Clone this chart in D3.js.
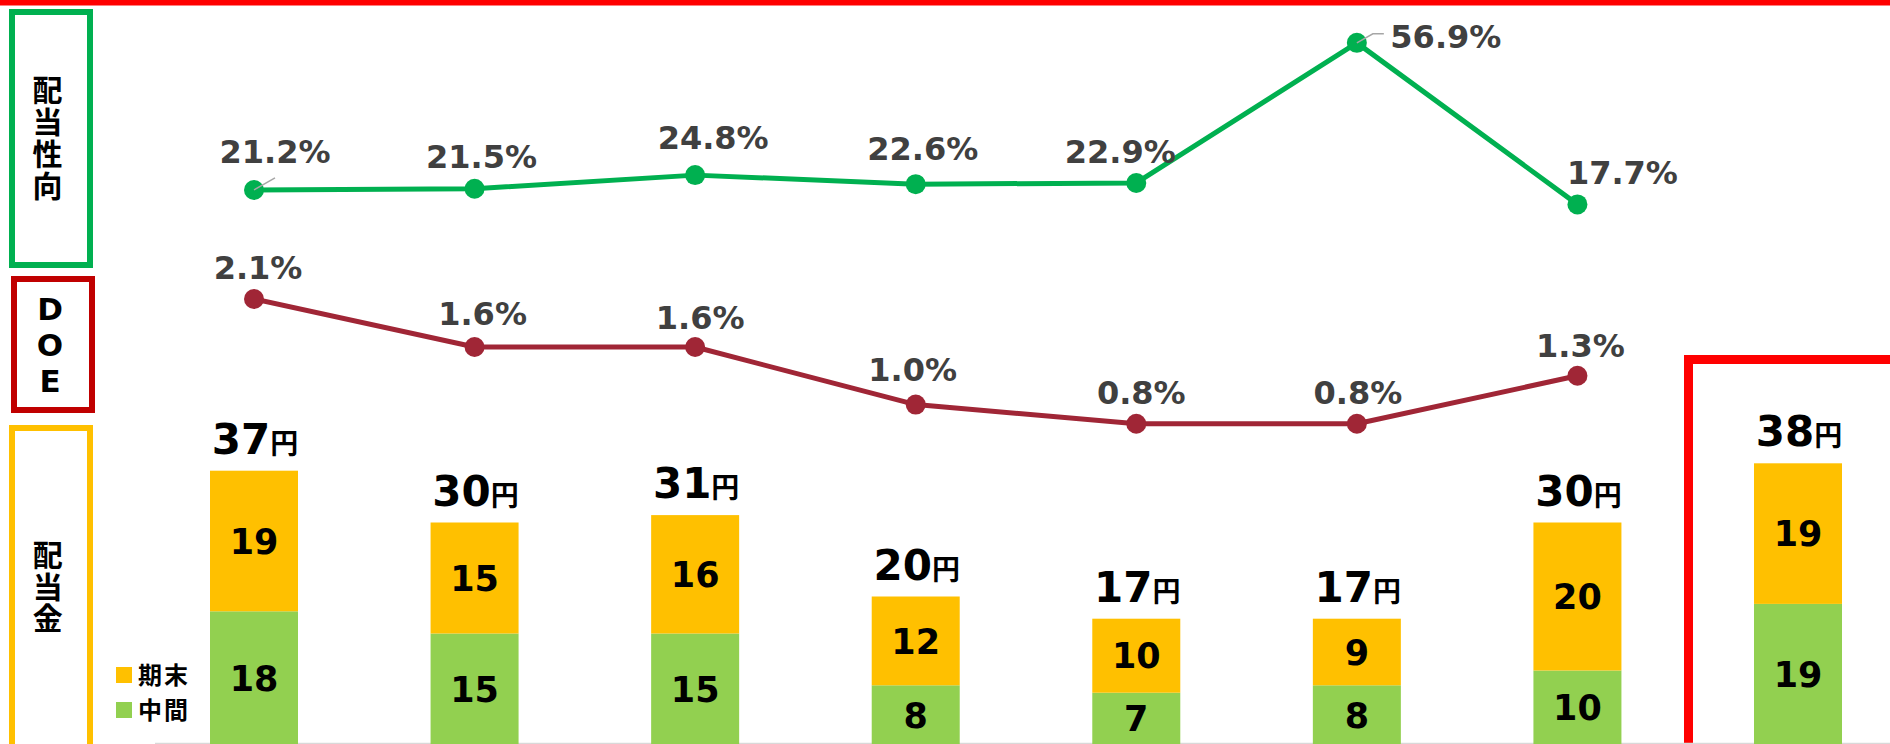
<!DOCTYPE html>
<meta charset="utf-8">
<head>
<script src="https://d3js.org/d3.v7.min.js"></script>
<style>
  body { margin: 0; background: #fff; }
  svg { display: block; }
  text { font-family: 'DejaVu Sans', 'Noto Sans CJK JP', sans-serif; font-weight: bold; }
  .cjk { font-family: 'Noto Sans CJK JP', sans-serif; }
  .vertical { writing-mode: vertical-rl; text-orientation: upright; }
</style>
</head>
<body>
<svg id="chart"></svg>
<script>

  // periods (no labels shown on the chart, last one is the forecast)
  var periods = ['P1', 'P2', 'P3', 'P4', 'P5', 'P6', 'P7', 'P8'];

  // dividend per share, yen
  var interim = [18, 15, 15, 8, 7, 8, 10, 19];   // 中間
  var yearEnd = [19, 15, 16, 12, 10, 9, 20, 19];  // 期末

  // payout ratio and DOE, % (no value for the forecast)
  var payoutRatio = [21.2, 21.5, 24.8, 22.6, 22.9, 56.9, 17.7];
  var doe = [2.1, 1.6, 1.6, 1.0, 0.8, 0.8, 1.3];

  var legendKeys = ['期末', '中間'];

  var width = 1890,
      height = 744;

  // label nudges, as the labels were dragged around in the original
  var payoutLabelOffset = [[21, -27], [7, -21], [18, -26], [7, -24], [-16, -20], [89, 5], [45, -20]];
  var doeLabelOffset = [[4, -20], [8, -22], [5, -18], [-3, -24], [5, -20], [1, -20], [3, -19]];

  var svg = d3.select('#chart')
      .attr('width', width)
      .attr('height', height);

  var x = d3.scalePoint()
      .domain(periods)
      .range([254, 1798]);

  var barWidth = 88;

  var yBar = d3.scaleLinear()
      .domain([0, 40])
      .range([744.5, 448.5]);

  var yPayout = d3.scaleLinear()
      .domain([0, 60])
      .range([277.3, 30.1]);

  var yDoe = d3.scaleLinear()
      .domain([0, 2.5])
      .range([500.6, 260.6]);

  var color = d3.scaleOrdinal()
      .domain(['yearEnd', 'interim'])
      .range(['#FFC000', '#92D050']);

  // top red rule
  svg.append('rect')
      .attr('x', 0).attr('y', 0)
      .attr('width', width).attr('height', 5.5)
      .attr('fill', '#FF0000');

  // side title boxes, text set vertically
  var boxes = [
    {label: '配当性向', stroke: '#00B050', x: 12, y: 12, w: 78, h: 253, cy: 138.5, cx: 47.5, cls: 'cjk vertical', size: 30, spacing: 1.8},
    {label: 'DOE', stroke: '#C00000', x: 14, y: 279, w: 78, h: 131, cy: 345, cx: 50, cls: 'vertical', size: 31, spacing: 0},
    {label: '配当金', stroke: '#FFC000', x: 12, y: 428, w: 78, h: 340, cy: 587, cx: 47.7, cls: 'cjk vertical', size: 30, spacing: 1.5}
  ];

  var gBox = svg.selectAll('.side-box')
      .data(boxes)
      .enter().append('g')
      .attr('class', 'side-box');

  gBox.append('rect')
      .attr('x', function(d) { return d.x; })
      .attr('y', function(d) { return d.y; })
      .attr('width', function(d) { return d.w; })
      .attr('height', function(d) { return d.h; })
      .attr('fill', 'none')
      .attr('stroke', function(d) { return d.stroke; })
      .attr('stroke-width', 6);

  gBox.append('text')
      .attr('class', function(d) { return d.cls; })
      .attr('x', function(d) { return d.cx; })
      .attr('y', function(d) { return d.cy; })
      .attr('text-anchor', 'middle')
      .style('font-size', function(d) { return d.size + 'px'; })
      .style('letter-spacing', function(d) { return d.spacing + 'px'; })
      .attr('fill', '#000')
      .text(function(d) { return d.label; });

  // forecast frame on the right
  svg.append('rect')
      .attr('x', 1688.5).attr('y', 359.5)
      .attr('width', 300).attr('height', 500)
      .attr('fill', 'none')
      .attr('stroke', '#FF0000')
      .attr('stroke-width', 9);

  // baseline
  svg.append('line')
      .attr('x1', 155).attr('x2', width)
      .attr('y1', 743.5).attr('y2', 743.5)
      .attr('stroke', '#D9D9D9')
      .attr('stroke-width', 1.5);

  // stacked bars
  var table = periods.map(function(p, i) {
    return {period: p, interim: interim[i], yearEnd: yearEnd[i]};
  });

  var stack = d3.stack().keys(['interim', 'yearEnd']);
  var series = stack(table);

  var layer = svg.selectAll('.layer')
      .data(series)
      .enter().append('g')
      .attr('class', 'layer')
      .attr('fill', function(d) { return color(d.key); });

  layer.selectAll('rect')
      .data(function(d) { return d; })
      .enter().append('rect')
      .attr('x', function(d) { return x(d.data.period) - barWidth / 2; })
      .attr('y', function(d) { return yBar(d[1]); })
      .attr('width', barWidth)
      .attr('height', function(d) { return yBar(d[0]) - yBar(d[1]); });

  layer.selectAll('text')
      .data(function(d) { return d; })
      .enter().append('text')
      .attr('x', function(d) { return x(d.data.period); })
      .attr('y', function(d) { return (yBar(d[0]) + yBar(d[1])) / 2; })
      .attr('dy', '0.36em')
      .attr('text-anchor', 'middle')
      .attr('fill', '#000')
      .style('font-size', '35px')
      .text(function(d) { return d[1] - d[0]; });

  // totals above bars
  var totals = svg.selectAll('.total')
      .data(table)
      .enter().append('text')
      .attr('class', 'total')
      .attr('x', function(d) { return x(d.period) + 1; })
      .attr('y', function(d) { return yBar(d.interim + d.yearEnd) - 17; })
      .attr('text-anchor', 'middle')
      .attr('fill', '#000');

  totals.append('tspan')
      .style('font-size', '42px')
      .text(function(d) { return d.interim + d.yearEnd; });

  totals.append('tspan')
      .attr('class', 'cjk')
      .style('font-size', '28px')
      .text('円');

  // legend
  var legendColors = [color('yearEnd'), color('interim')];

  var legend = svg.selectAll('.legend')
      .data(legendKeys)
      .enter().append('g')
      .attr('class', 'legend')
      .attr('transform', function(d, i) { return 'translate(116,' + (667 + i * 35) + ')'; });

  legend.append('rect')
      .attr('width', 16)
      .attr('height', 16)
      .attr('fill', function(d, i) { return legendColors[i]; });

  legend.append('text')
      .attr('class', 'cjk')
      .attr('x', 22)
      .attr('y', 8)
      .attr('dy', '0.37em')
      .style('font-size', '24px')
      .style('letter-spacing', '2px')
      .attr('fill', '#000')
      .text(function(d) { return d; });

  // lines
  function drawLine(values, yScale, stroke, offsets, cls) {
    var pts = values.map(function(v, i) { return {period: periods[i], value: v, off: offsets[i]}; });

    var line = d3.line()
        .x(function(d) { return x(d.period); })
        .y(function(d) { return yScale(d.value); });

    var g = svg.append('g').attr('class', cls);

    g.append('path')
        .datum(pts)
        .attr('d', line)
        .attr('fill', 'none')
        .attr('stroke', stroke)
        .attr('stroke-width', 5)
        .attr('stroke-linejoin', 'round');

    g.selectAll('circle')
        .data(pts)
        .enter().append('circle')
        .attr('cx', function(d) { return x(d.period); })
        .attr('cy', function(d) { return yScale(d.value); })
        .attr('r', 10)
        .attr('fill', stroke);

    g.selectAll('text')
        .data(pts)
        .enter().append('text')
        .attr('x', function(d) { return x(d.period) + d.off[0]; })
        .attr('y', function(d) { return yScale(d.value) + d.off[1]; })
        .attr('text-anchor', 'middle')
        .attr('fill', '#404040')
        .style('font-size', '32px')
        .text(function(d) { return d3.format('.1f')(d.value) + '%'; });

    return pts;
  }

  var payoutPts = drawLine(payoutRatio, yPayout, '#00B050', payoutLabelOffset, 'payout');
  drawLine(doe, yDoe, '#A02636', doeLabelOffset, 'doe');

  // leader lines for the dragged payout labels
  var leaders = svg.append('g')
      .attr('fill', 'none')
      .attr('stroke', '#A6A6A6')
      .attr('stroke-width', 1.5);

  var p0 = payoutPts[0];
  leaders.append('path')
      .attr('d', d3.line()([[x(p0.period), yPayout(p0.value)], [x(p0.period) + 21, yPayout(p0.value) - 12]]));

  var p5 = payoutPts[5];
  leaders.append('path')
      .attr('d', d3.line()([[x(p5.period), yPayout(p5.value)], [x(p5.period) + 16, yPayout(p5.value) - 9], [x(p5.period) + 27, yPayout(p5.value) - 9]]));

</script>
</body>
